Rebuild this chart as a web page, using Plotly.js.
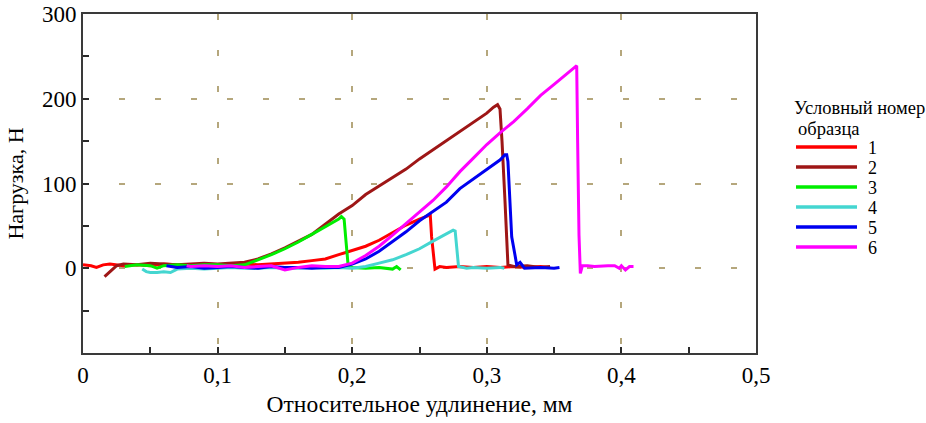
<!DOCTYPE html>
<html>
<head>
<meta charset="utf-8">
<script src="https://cdn.plot.ly/plotly-3.0.1.min.js"></script>
<style>
html,body{margin:0;padding:0;background:#fff;}
#chart{width:926px;height:423px;}
#chart svg text{font-family:"Liberation Serif","Times New Roman",serif !important;}
</style>
</head>
<body>
<div id="chart"></div>
<script>
// ---- data ----
var seriesNames = ["1", "2", "3", "4", "5", "6"];
var seriesColors = ["#ff0000", "#9e1616", "#00ee00", "#44d6d0", "#0000f0", "#ff00ff"];

var x1 = [0, 0.006, 0.01, 0.015, 0.02, 0.03, 0.04, 0.05, 0.06, 0.07, 0.08, 0.09, 0.1, 0.11, 0.12, 0.13, 0.14, 0.15, 0.16, 0.17, 0.18, 0.19, 0.2, 0.21, 0.22, 0.23, 0.24, 0.25, 0.255, 0.258, 0.259, 0.2615, 0.265, 0.27, 0.28, 0.29, 0.3, 0.31, 0.32, 0.33, 0.34, 0.347];
var y1 = [4, 3, 1, 4, 5, 3, 4, 3, 5, 4, 3, 5, 4, 4, 5, 4, 5, 6, 7, 9, 11, 16, 21, 26, 33, 42, 51, 58, 61, 63, 37, -1, 2, 1, 2, 1, 2, 1, 2, 1, 2, 1];

var x2 = [0.016, 0.02, 0.025, 0.03, 0.04, 0.05, 0.06, 0.07, 0.08, 0.09, 0.1, 0.11, 0.12, 0.13, 0.14, 0.15, 0.16, 0.17, 0.18, 0.19, 0.2, 0.21, 0.22, 0.23, 0.24, 0.25, 0.26, 0.27, 0.28, 0.29, 0.3, 0.305, 0.308, 0.3098, 0.3113, 0.3135, 0.3148, 0.3157, 0.32, 0.33, 0.34, 0.347];
var y2 = [-10, -4, 3, 5, 4, 6, 5, 4, 5, 6, 5, 6, 7, 11, 17, 24, 32, 40, 52, 64, 74, 87, 97, 107, 117, 129, 140, 150, 161, 172, 183, 190, 193, 188, 150, 80, 33, 4, 2, 3, 1, 2];

var x3 = [0.031, 0.04, 0.05, 0.055, 0.06, 0.07, 0.08, 0.09, 0.1, 0.11, 0.12, 0.13, 0.14, 0.15, 0.16, 0.17, 0.18, 0.185, 0.19, 0.192, 0.194, 0.1955, 0.197, 0.2, 0.21, 0.22, 0.23, 0.233, 0.236];
var y3 = [2, 4, 3, 0, 3, 4, 3, 4, 4, 3, 4, 10, 16, 23, 31, 40, 49, 54, 58, 61, 58, 30, 3, 1, 0, 1, -1, 2, -2];

var x4 = [0.044, 0.047, 0.05, 0.055, 0.06, 0.065, 0.07, 0.08, 0.09, 0.1, 0.11, 0.12, 0.13, 0.14, 0.15, 0.16, 0.17, 0.18, 0.19, 0.2, 0.21, 0.22, 0.23, 0.24, 0.25, 0.26, 0.27, 0.275, 0.2765, 0.278, 0.279, 0.285, 0.29, 0.3, 0.31, 0.313];
var y4 = [-1, -4, -5, -5, -4, -5, -1, 0, -1, 0, 1, 0, 0, 1, 0, 0, 1, 0, 1, 0, 2, 6, 10, 16, 23, 32, 41, 45, 44, 21, 2, 0, 1, 0, 1, 0];

var x5 = [0.062, 0.07, 0.08, 0.09, 0.1, 0.11, 0.12, 0.13, 0.14, 0.15, 0.16, 0.17, 0.18, 0.19, 0.2, 0.21, 0.22, 0.23, 0.24, 0.25, 0.26, 0.27, 0.28, 0.29, 0.3, 0.305, 0.31, 0.3135, 0.3148, 0.3157, 0.3172, 0.3185, 0.321, 0.3222, 0.3247, 0.328, 0.34, 0.35, 0.354];
var y5 = [3, 1, 2, 0, 1, 2, 1, 0, 2, 1, 1, 0, 1, 1, 5, 11, 20, 31, 43, 56, 67, 78, 94, 105, 116, 122, 128, 134, 134, 126, 83, 37, 15, 4, 7, 0, 1, 0, 1];

var x6 = [0.077, 0.08, 0.09, 0.1, 0.11, 0.12, 0.13, 0.14, 0.15, 0.16, 0.17, 0.18, 0.19, 0.2, 0.21, 0.22, 0.23, 0.24, 0.25, 0.26, 0.27, 0.28, 0.29, 0.3, 0.31, 0.32, 0.33, 0.34, 0.35, 0.36, 0.365, 0.3668, 0.3675, 0.3685, 0.3695, 0.371, 0.375, 0.38, 0.39, 0.395, 0.3985, 0.4, 0.403, 0.406, 0.409];
var y6 = [3, 2, 3, 2, 3, 1, 2, 3, -2, 1, 3, 2, 2, 6, 15, 26, 39, 53, 67, 80, 96, 114, 130, 146, 160, 173, 188, 204, 217, 230, 237, 239, 148, 39, -6, 3, 3, 2, 3, 3, 0, 3, -2, 2, 2];

var xTickVals = [0, 0.1, 0.2, 0.3, 0.4, 0.5];
var xTickText = ["0", "0,1", "0,2", "0,3", "0,4", "0,5"];
var xMinorVals = [0.05, 0.15, 0.25, 0.35, 0.45];
var yTickVals = [-100, 0, 100, 200, 300];
var yTickText = ["", "0", "100", "200", "300"];
var yMinorVals = [-50, 50, 150, 250];

var xTitle = "Относительное удлинение, мм";
var yTitle = "Нагрузка, Н";
var legendTitle1 = "Условный номер";
var legendTitle2 = "образца";

// ---- build ----
var xs = [x1, x2, x3, x4, x5, x6];
var ys = [y1, y2, y3, y4, y5, y6];
var FONT = "Liberation Serif";
var traces = [];
for (var i = 0; i < xs.length; i++) {
  traces.push({
    x: xs[i], y: ys[i], type: "scatter", mode: "lines",
    name: seriesNames[i], showlegend: false,
    line: {color: seriesColors[i], width: 3}
  });
}

var L = 83, R = 756, T = 14, B = 353;
function px2x(p) { return (p - L) / (R - L); }
function px2y(p) { return (B - p) / (B - T); }

var shapes = [];
var annotations = [
  {xref: "paper", yref: "paper", x: px2x(792), y: px2y(108), xanchor: "left", yanchor: "middle",
   text: legendTitle1, showarrow: false, font: {family: FONT, size: 18.5, color: "#000"}},
  {xref: "paper", yref: "paper", x: px2x(796), y: px2y(129), xanchor: "left", yanchor: "middle",
   text: legendTitle2, showarrow: false, font: {family: FONT, size: 18.5, color: "#000"}}
];
for (var k = 0; k < seriesNames.length; k++) {
  var py = 147 + 20 * k;
  shapes.push({type: "line", xref: "paper", yref: "paper",
    x0: px2x(796), x1: px2x(857), y0: px2y(py), y1: px2y(py),
    line: {color: seriesColors[k], width: 3.5}});
  annotations.push({xref: "paper", yref: "paper", x: px2x(866), y: px2y(py + 1),
    xanchor: "left", yanchor: "middle", text: seriesNames[k], showarrow: false,
    font: {family: FONT, size: 18, color: "#000"}});
}

function axisBase() {
  return {
    showline: true, linecolor: "#3a3a3a", linewidth: 2, mirror: true,
    ticks: "inside", ticklen: 6, tickwidth: 2, tickcolor: "#2a2a2a",
    showgrid: true, gridcolor: "#b5a77c", gridwidth: 2, griddash: "6px,30px",
    zeroline: false, tickmode: "array",
    tickfont: {family: FONT, size: 23, color: "#000"}
  };
}

var xaxis = axisBase();
xaxis.range = [0, 0.5];
xaxis.tickvals = xTickVals;
xaxis.ticktext = xTickText;
xaxis.minor = {tickmode: "array", tickvals: xMinorVals, ticks: "inside", ticklen: 6, tickwidth: 2, tickcolor: "#2a2a2a", showgrid: false};
xaxis.title = {text: xTitle, font: {family: FONT, size: 23.5, color: "#000"}, standoff: 9};

var yaxis = axisBase();
yaxis.range = [-100, 300];
yaxis.tickvals = yTickVals;
yaxis.ticktext = yTickText;
yaxis.minor = {tickmode: "array", tickvals: yMinorVals, ticks: "inside", ticklen: 6, tickwidth: 2, tickcolor: "#2a2a2a", showgrid: false};
yaxis.title = {text: yTitle, font: {family: FONT, size: 22, color: "#000"}, standoff: 12};

var layout = {
  width: 926, height: 423,
  margin: {l: L, r: 926 - R, t: T, b: 423 - B},
  paper_bgcolor: "#fff", plot_bgcolor: "#fff",
  xaxis: xaxis,
  yaxis: yaxis,
  shapes: shapes,
  annotations: annotations,
  showlegend: false
};

Plotly.newPlot("chart", traces, layout, {displayModeBar: false});
</script>
</body>
</html>
